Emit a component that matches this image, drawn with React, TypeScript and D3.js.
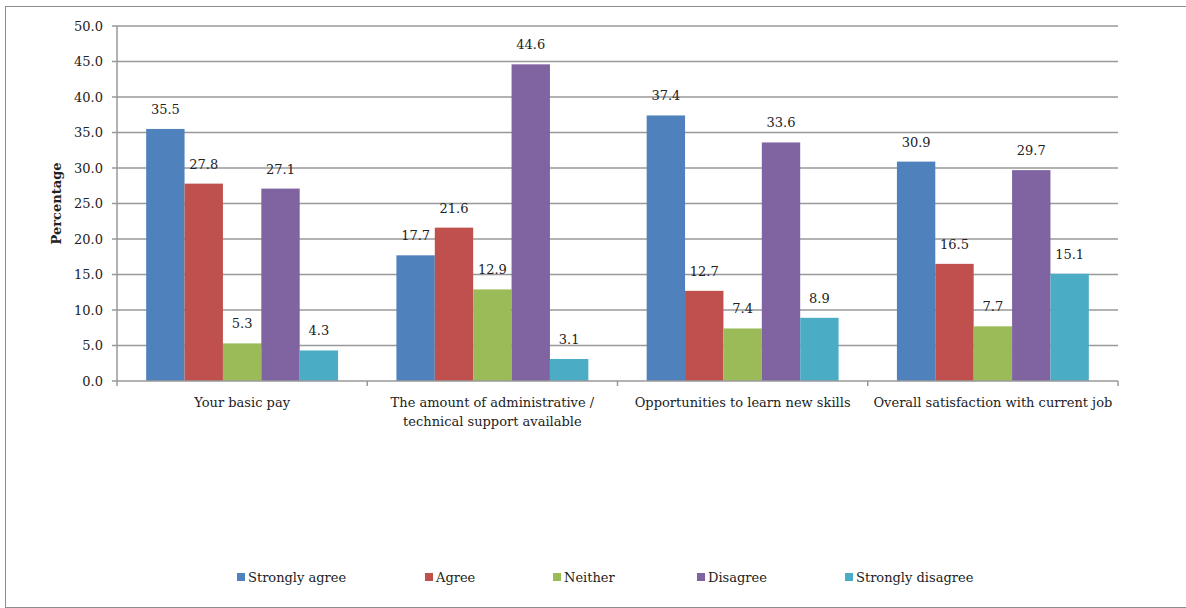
import React from "react";
import * as d3 from "d3";

const categories = [
  ["Your basic pay"],
  ["The amount of administrative /", "technical support available"],
  ["Opportunities to learn new skills"],
  ["Overall satisfaction with current job"],
];
const seriesNames = ["Strongly agree", "Agree", "Neither", "Disagree", "Strongly disagree"];
const stronglyAgree = [35.5, 17.7, 37.4, 30.9];
const agree = [27.8, 21.6, 12.7, 16.5];
const neither = [5.3, 12.9, 7.4, 7.7];
const disagree = [27.1, 44.6, 33.6, 29.7];
const stronglyDisagree = [4.3, 3.1, 8.9, 15.1];
const seriesValues = [stronglyAgree, agree, neither, disagree, stronglyDisagree];
const colors = ["#4F81BD", "#C0504D", "#9BBB59", "#8064A2", "#4BACC6"];
const yTicks = [0, 5, 10, 15, 20, 25, 30, 35, 40, 45, 50];
const legendX = [237, 425, 553, 697, 845];

const W = 1186;
const H = 608;
const left = 117;
const right = 1118;
const top = 26;
const bottom = 381;
const font = "'DejaVu Serif', serif";

export default function App() {
  const catIdx = categories.map((_, i) => i);
  const x0 = d3.scaleBand<number>().domain(catIdx).range([left, right]).padding(0);
  const x1 = d3
    .scaleBand<number>()
    .domain(seriesNames.map((_, i) => i))
    .range([0, x0.bandwidth()])
    .paddingInner(0)
    .paddingOuter(0.76);
  const y = d3.scaleLinear().domain([0, 50]).range([bottom, top]);
  const fmt = d3.format(".1f");
  const boundaries = [...catIdx.map((i) => x0(i)!), right];

  return (
    <svg
      width={W}
      height={H}
      style={{ position: "absolute", left: 0, top: 0, background: "#fff" }}
      fontFamily={font}
    >
      <rect x={5.5} y={6.5} width={W - 5} height={H - 7} fill="#fff" stroke="#8c8c8c" strokeWidth={1} />
      {yTicks.map((t) => (
        <g key={t}>
          {t > 0 && (
            <line x1={left} x2={right} y1={y(t)} y2={y(t)} stroke="#999" strokeWidth={1.5} />
          )}
          <line x1={left - 5} x2={left} y1={y(t)} y2={y(t)} stroke="#999" strokeWidth={1.5} />
          <text x={103} y={y(t)} dy="0.35em" textAnchor="end" fontSize={13} fill="#222">
            {fmt(t)}
          </text>
        </g>
      ))}
      <line x1={left} x2={left} y1={top} y2={bottom} stroke="#999" strokeWidth={1.5} />
      {seriesValues.map((vals, s) =>
        vals.map((v, c) => {
          const bx = x0(c)! + x1(s)!;
          return (
            <g key={`${s}-${c}`}>
              <rect x={bx} y={y(v)} width={x1.bandwidth()} height={bottom - y(v)} fill={colors[s]} />
              <text
                x={bx + x1.bandwidth() / 2}
                y={y(v) - 15}
                textAnchor="middle"
                fontSize={13}
                fill="#222"
              >
                {fmt(v)}
              </text>
            </g>
          );
        })
      )}
      <line x1={left} x2={right} y1={bottom} y2={bottom} stroke="#999" strokeWidth={1.5} />
      {boundaries.map((bx, i) => (
        <line key={i} x1={bx} x2={bx} y1={bottom} y2={bottom + 5} stroke="#999" strokeWidth={1.5} />
      ))}
      {categories.map((lines, c) => (
        <text
          key={c}
          x={x0(c)! + x0.bandwidth() / 2}
          y={407}
          textAnchor="middle"
          fontSize={13}
          fill="#222"
        >
          {lines.map((l, k) => (
            <tspan key={k} x={x0(c)! + x0.bandwidth() / 2} dy={k === 0 ? 0 : 19}>
              {l}
            </tspan>
          ))}
        </text>
      ))}
      <text
        transform={`translate(61,${(top + bottom) / 2}) rotate(-90)`}
        textAnchor="middle"
        fontSize={13}
        fontWeight="bold"
        fill="#222"
      >
        Percentage
      </text>
      {seriesNames.map((n, i) => (
        <g key={n}>
          <rect x={legendX[i]} y={573} width={8} height={8} fill={colors[i]} />
          <text x={legendX[i] + 11} y={577} dy="0.35em" fontSize={13} fill="#222">
            {n}
          </text>
        </g>
      ))}
    </svg>
  );
}
